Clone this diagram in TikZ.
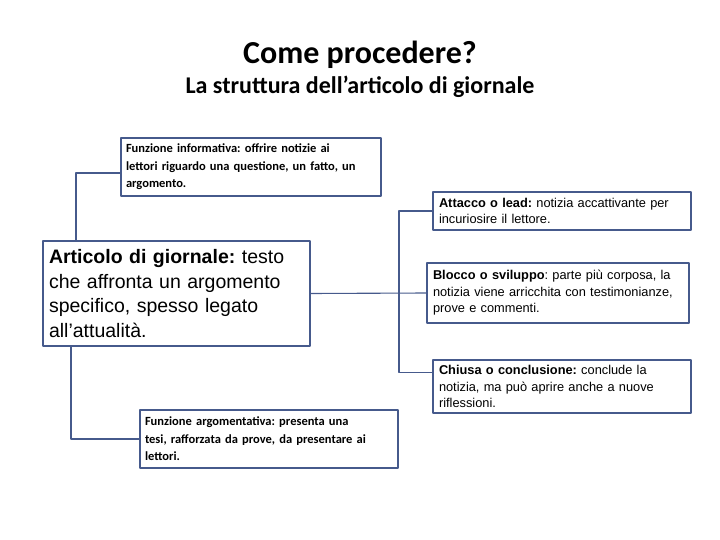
\documentclass[tikz,border=0pt]{standalone}
\usepackage{fontspec}
\setmainfont{Liberation Sans}
\newfontfamily\calibri{Carlito}
\usepackage{xcolor}
\definecolor{bordo}{RGB}{70,90,140}
\usetikzlibrary{calc}
\frenchspacing

\begin{document}
\begin{tikzpicture}[line cap=round,line join=round,x=1pt,y=-1pt,
    scheda/.style={draw=bordo,line width=1.1pt,fill=white,rectangle,anchor=north west,
        align=left,inner xsep=6pt,inner ysep=2pt,outer sep=0pt},
    conn/.style={draw=bordo,line width=1.1pt},
    titolo/.style={font=\calibri\bfseries\fontsize{32}{36}\selectfont},
    sottotitolo/.style={font=\calibri\bfseries\fontsize{24}{28}\selectfont}]
                \useasboundingbox (0,0) rectangle (720,540);
                \node[titolo] (tit) at (360,55) {Come procedere?};
                \node[sottotitolo] (sottotit) at (360,87) {La struttura dell’articolo di giornale};
                % schede a sinistra
                \node[scheda,minimum width=260,minimum height=58,text width=250,inner xsep=5pt,
                    font=\calibri\bfseries\fontsize{12.5}{17.5}\selectfont] (informativa) at (121,138)
                    {Funzione informativa: offrire notizie ai\\lettori riguardo una questione, un fatto, un\\argomento.};
                \node[scheda,minimum width=267,minimum height=105,text width=255,
                    font=\fontsize{19.5}{24.5}\selectfont] (articolo) at (43,241)
                    {\textbf{Articolo di giornale:} testo\\che affronta un argomento\\specifico, spesso legato\\all’attualità.};
                \node[scheda,minimum width=258,minimum height=58,text width=248,inner xsep=5pt,
                    font=\calibri\bfseries\fontsize{12.5}{17.5}\selectfont] (argomentativa) at (140,410)
                    {Funzione argomentativa: presenta una\\tesi, rafforzata da prove, da presentare ai\\lettori.};
                % schede a destra
                \node[scheda,minimum width=258,minimum height=38,text width=246,
                    font=\fontsize{12.8}{15.5}\selectfont] (attacco) at (433,192)
                    {\textbf{Attacco o lead:} notizia accattivante per\\incuriosire il lettore.};
                \node[scheda,minimum width=262,minimum height=60,text width=250,
                    font=\fontsize{12.8}{16.5}\selectfont] (blocco) at (427,263)
                    {\textbf{Blocco o sviluppo}: parte più corposa, la\\notizia viene arricchita con testimonianze,\\prove e commenti.};
                \node[scheda,minimum width=258,minimum height=53,text width=246,
                    font=\fontsize{12.8}{16.5}\selectfont] (chiusa) at (433,360)
                    {\textbf{Chiusa o conclusione:} conclude la\\notizia, ma può aprire anche a nuove\\riflessioni.};
                % collegamenti
                \coordinate (snodo) at (399,293);
                \draw[conn] ([xshift=33pt]articolo.north west) |- ([yshift=-6pt]informativa.west);
                \draw[conn] ([xshift=28pt]articolo.south west) |- (argomentativa.west);
                \draw[conn] (articolo.east) -- (blocco.west);
                \draw[conn] (attacco.west) -| (snodo) |- ([yshift=14pt]chiusa.west);
            \end{tikzpicture}
\end{document}
